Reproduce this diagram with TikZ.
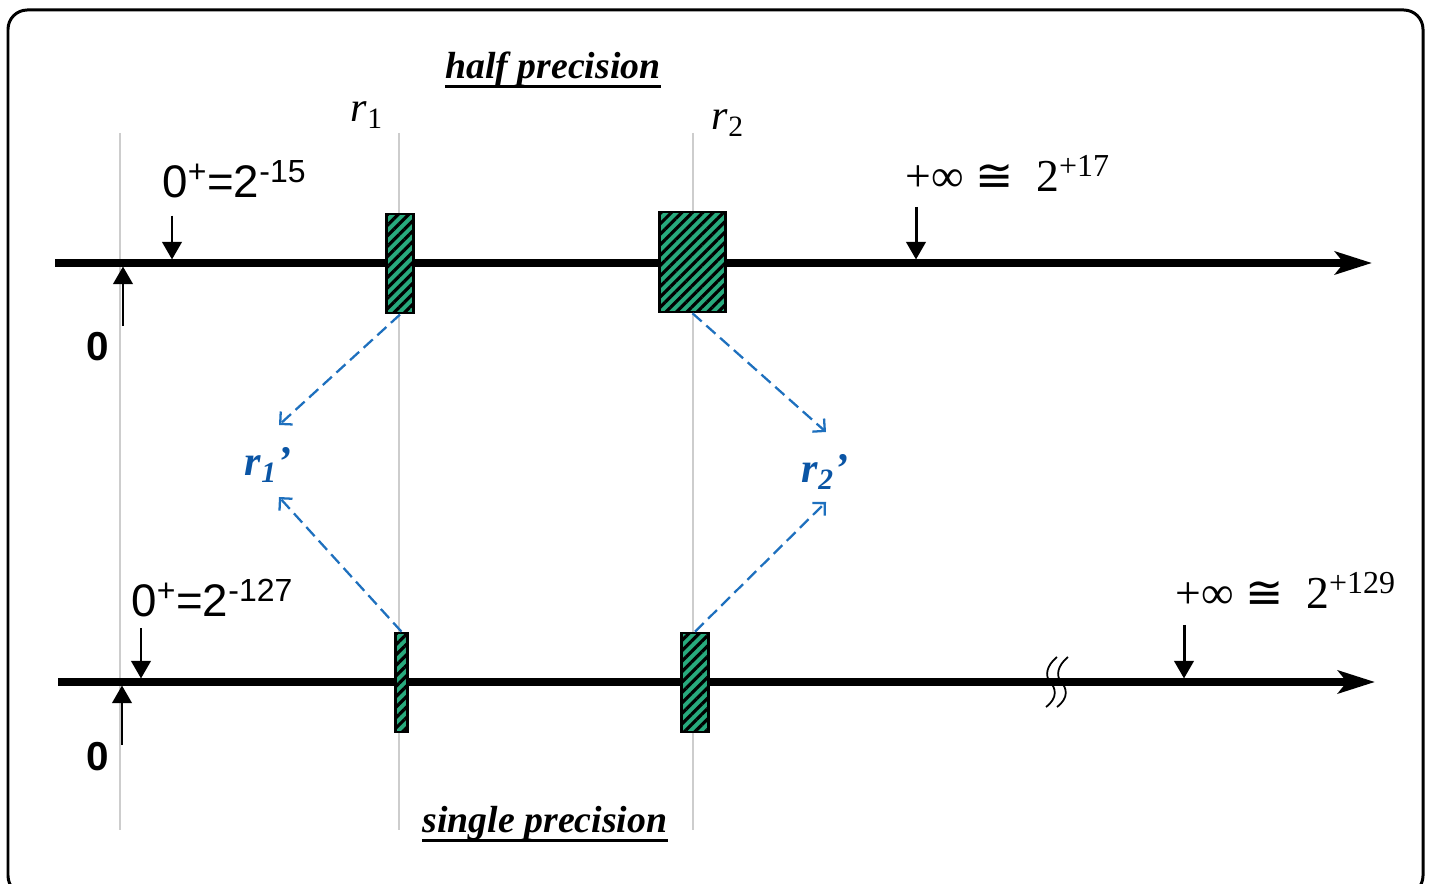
\documentclass[tikz,border=0pt]{standalone}
\usepackage{fontspec}
\setmainfont{Liberation Serif}
\setsansfont{Liberation Sans}
\newfontfamily\congfont{DejaVu Sans}
\usetikzlibrary{arrows.meta, patterns.meta, positioning}
\definecolor{hatchgreen}{RGB}{40,170,125}
\definecolor{mapblue}{RGB}{30,112,190}
\definecolor{labelblue}{RGB}{10,85,165}
\definecolor{guidegray}{RGB}{205,205,205}

\tikzset{
  axis/.style={line width=4pt, -{Stealth[length=21pt, width=13pt, inset=5pt]}},
  guide/.style={guidegray, line width=0.6pt},
  hatchbox/.style={draw, line width=1.5pt, inner sep=0pt,
    preaction={fill=hatchgreen},
    pattern={Lines[angle=45, distance=4.2pt, line width=1.8pt]}, pattern color=black},
  marker/.style={line width=1.7pt, -{Triangle[length=10pt, width=11pt]}},
  maparrow/.style={mapblue, line width=1.3pt, dash pattern=on 7pt off 3.5pt,
    -{Straight Barb[length=5pt, width=10pt]}},
  breakmark/.style={line width=1pt},
  title/.style={inner sep=0pt, font=\fontsize{21.5}{24}\selectfont\bfseries\itshape},
  rlabel/.style={inner sep=0pt, font=\fontsize{24}{28}\selectfont},
  rmapped/.style={inner sep=0pt, labelblue, font=\fontsize{24}{28}\selectfont\bfseries\itshape},
  zerolabel/.style={inner sep=0pt, font=\sffamily\bfseries\fontsize{23}{26}\selectfont},
  vallabel/.style={inner sep=0pt, font=\sffamily\fontsize{26}{30}\selectfont},
  inflabel/.style={inner sep=0pt, font=\fontsize{26}{30}\selectfont}
}

\begin{document}
\begin{tikzpicture}[x=0.02cm, y=-0.02cm]
    \useasboundingbox (0,0) rectangle (1431,884);
    % Frame
    \draw[line width=1.7pt, rounded corners=11pt] (8,10) rectangle (1423,895);

    % Guides
    \foreach \gx in {120,399,693}
        \draw[guide] (\gx,133) -- (\gx,830);

    % Half precision axis
    \coordinate (hstart) at (55,263);
    \coordinate (hend) at (1372,263);
    \draw[axis] (hstart) -- (hend);
    \node[hatchbox, minimum width=0.54cm, minimum height=1.98cm] (hr1) at (400,263.5) {};
    \node[hatchbox, minimum width=1.32cm, minimum height=2.0cm] (hr2) at (692.5,262) {};

    % Single precision axis
    \coordinate (sstart) at (58,682);
    \coordinate (send) at (1375,682);
    \draw[axis] (sstart) -- (send);
    \node[hatchbox, minimum width=0.24cm, minimum height=1.98cm] (sr1) at (401.5,682.5) {};
    \node[hatchbox, minimum width=0.54cm, minimum height=1.98cm] (sr2) at (695,682.5) {};

    % Break
    \draw[breakmark] (1057,657) .. controls (1046,666) and (1045,676) .. (1050,682)
        .. controls (1056,688) and (1058,698) .. (1046,707);
    \draw[breakmark] (1068,657) .. controls (1057,666) and (1056,676) .. (1061,682)
        .. controls (1067,688) and (1069,698) .. (1057,707);

    % Titles
    \node[title, anchor=base] (half) at (553,79) {half precision};
    \draw[line width=1.7pt] ([yshift=-4pt]half.base west) -- ([yshift=-4pt]half.base east);
    \node[title, anchor=base] (single) at (545,833) {single precision};
    \draw[line width=1.7pt] ([yshift=-4pt]single.base west) -- ([yshift=-4pt]single.base east);

    % Ranges
    \node[rlabel, anchor=base] (r1) at (367,122) {\textit{r}\textsubscript{1}};
    \node[rlabel, anchor=base] (r2) at (728,130) {\textit{r}\textsubscript{2}};

    % Zero and limits, half
    \coordinate (hzero) at (123,263);
    \coordinate (hmin) at (172,263);
    \coordinate (hmax) at (916,263);
    \draw[marker] ([yshift=-36pt]hzero) -- ([yshift=-2pt]hzero);
    \draw[marker] ([yshift=27pt]hmin) -- ([yshift=2pt]hmin);
    \draw[marker] ([yshift=32pt]hmax) -- ([yshift=2pt]hmax);
    \node[zerolabel, anchor=base] (hz) at (98,361) {0};
    \node[vallabel, anchor=base west] (hminlab) at (162,198) {0\textsuperscript{+}=2\textsuperscript{-15}};
    \node[inflabel, anchor=base west] (hmaxlab) at (905,192) {+∞ {\congfont ≅}\ \ 2\textsuperscript{+17}};

    % Zero and limits, single
    \coordinate (szero) at (122,682);
    \coordinate (smin) at (141,682);
    \coordinate (smax) at (1184,682);
    \draw[marker] ([yshift=-36pt]szero) -- ([yshift=-2pt]szero);
    \draw[marker] ([yshift=30.5pt]smin) -- ([yshift=2pt]smin);
    \draw[marker] ([yshift=32.5pt]smax) -- ([yshift=2pt]smax);
    \node[zerolabel, anchor=base] (sz) at (98,771) {0};
    \node[vallabel, anchor=base west] (sminlab) at (131,617) {0\textsuperscript{+}=2\textsuperscript{-127}};
    \node[inflabel, anchor=base west] (smaxlab) at (1175,609) {+∞ {\congfont ≅}\ \ 2\textsuperscript{+129}};

    % Mapped values
    \node[rmapped, anchor=base] (r1p) at (268,476) {r\textsubscript{1}’};
    \node[rmapped, anchor=base] (r2p) at (825,483) {r\textsubscript{2}’};
    \coordinate (r1in) at (279,425);
    \coordinate (r1out) at (279,497);
    \coordinate (r2in) at (826,432);
    \coordinate (r2out) at (826,502);
    \draw[maparrow] (hr1.south) -- (r1in);
    \draw[maparrow] (sr1.north) -- (r1out);
    \draw[maparrow] (hr2.south) -- (r2in);
    \draw[maparrow] (sr2.north) -- (r2out);
\end{tikzpicture}
\end{document}
